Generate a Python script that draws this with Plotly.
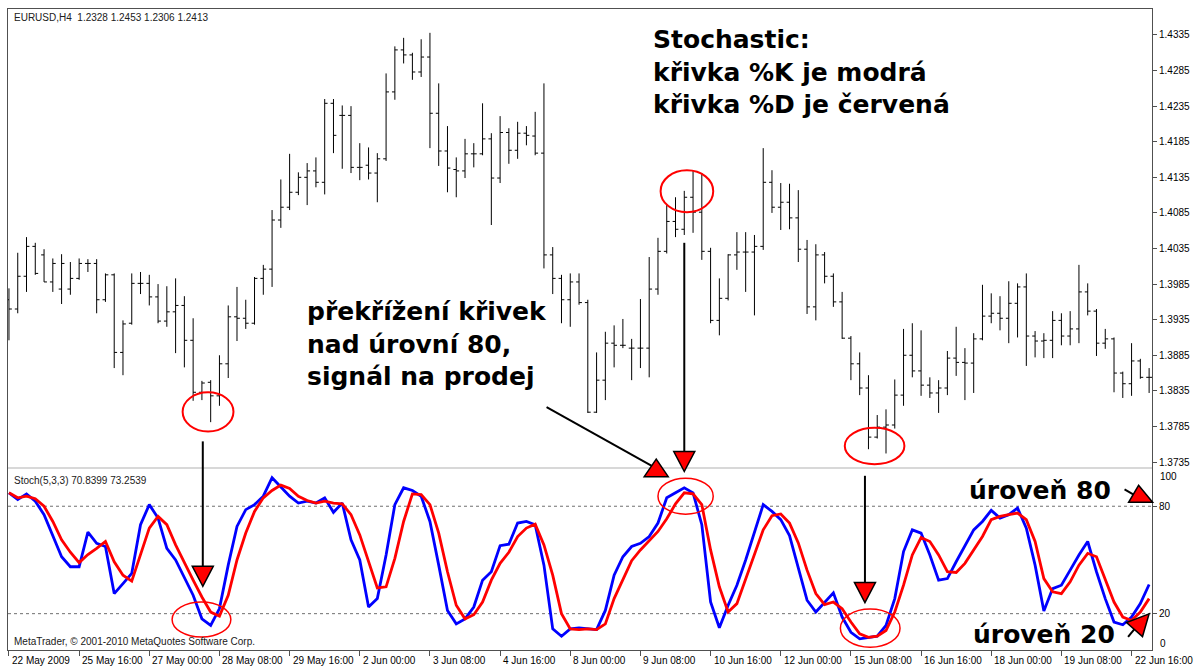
import plotly.graph_objects as go

# --- Data ---
bars = list(range(131))

opens = [1.3963, 1.3950, 1.3996, 1.4038, 1.4026, 1.3988, 1.3978, 1.3978, 1.3993, 1.4014,
         1.4014, 1.3963, 1.3998, 1.3889, 1.3930, 1.3986, 1.3986, 1.3967, 1.3933, 1.3946,
         1.3955, 1.3906, 1.3833, 1.3847, 1.3828, 1.3873, 1.3939, 1.3937, 1.3930, 1.3993,
         1.4006, 1.4075, 1.4093, 1.4114, 1.4135, 1.4144, 1.4128, 1.4239, 1.4222, 1.4222,
         1.4149, 1.4152, 1.4141, 1.4161, 1.4255, 1.4314, 1.4307, 1.4283, 1.4304, 1.4225,
         1.4172, 1.4146, 1.4144, 1.4168, 1.4168, 1.4189, 1.4134, 1.4198, 1.4173, 1.4197,
         1.4193, 1.4169, 1.4026, 1.3993, 1.3963, 1.3988, 1.3959, 1.3805, 1.3850, 1.3902,
         1.3899, 1.3895, 1.3895, 1.3895, 1.3978, 1.4031, 1.4073, 1.4062, 1.4107, 1.4086,
         1.4031, 1.3934, 1.3965, 1.4026, 1.4030, 1.4030, 1.4038, 1.4128, 1.4093, 1.4100,
         1.4078, 1.4034, 1.3953, 1.4026, 1.3996, 1.3960, 1.3909, 1.3873, 1.3839, 1.3770,
         1.3784, 1.3787, 1.3829, 1.3885, 1.3863, 1.3843, 1.3832, 1.3839, 1.3881, 1.3875,
         1.3874, 1.3908, 1.3940, 1.3944, 1.3937, 1.3958, 1.3981, 1.3912, 1.3905, 1.3906,
         1.3934, 1.3912, 1.3922, 1.3974, 1.3947, 1.3902, 1.3908, 1.3860, 1.3845, 1.3877,
         1.3854]
highs = [1.3979, 1.4029, 1.4051, 1.4043, 1.4034, 1.4021, 1.4027, 1.4016, 1.4021, 1.4020,
         1.4020, 1.4000, 1.4000, 1.3934, 1.4000, 1.4002, 1.3998, 1.3985, 1.3982, 1.3993,
         1.3968, 1.3937, 1.3849, 1.3850, 1.3885, 1.3955, 1.3981, 1.3963, 1.3995, 1.4012,
         1.4089, 1.4132, 1.4168, 1.4142, 1.4155, 1.4163, 1.4245, 1.4245, 1.4236, 1.4235,
         1.4183, 1.4177, 1.4169, 1.4281, 1.4319, 1.4331, 1.4310, 1.4329, 1.4338, 1.4267,
         1.4207, 1.4163, 1.4189, 1.4183, 1.4239, 1.4197, 1.4221, 1.4204, 1.4213, 1.4207,
         1.4227, 1.4267, 1.4037, 1.3998, 1.4000, 1.4000, 1.3963, 1.3889, 1.3918, 1.3927,
         1.3936, 1.3908, 1.3964, 1.4023, 1.4050, 1.4096, 1.4107, 1.4116, 1.4144, 1.4141,
         1.4036, 1.3993, 1.4027, 1.4058, 1.4058, 1.4054, 1.4176, 1.4145, 1.4127, 1.4126,
         1.4117, 1.4047, 1.4041, 1.4030, 1.4000, 1.3974, 1.3912, 1.3889, 1.3857, 1.3801,
         1.3809, 1.3851, 1.3922, 1.3930, 1.3920, 1.3854, 1.3850, 1.3891, 1.3925, 1.3895,
         1.3916, 1.3984, 1.3972, 1.3968, 1.3989, 1.3986, 1.4000, 1.3919, 1.3916, 1.3947,
         1.3944, 1.3947, 1.4012, 1.3986, 1.3950, 1.3922, 1.3910, 1.3862, 1.3902, 1.3880,
         1.3867]
lows = [1.3906, 1.3944, 1.3974, 1.3998, 1.3988, 1.3974, 1.3957, 1.3970, 1.3991, 1.4002,
        1.3944, 1.3960, 1.3867, 1.3857, 1.3928, 1.3971, 1.3955, 1.3930, 1.3925, 1.3888,
        1.3868, 1.3821, 1.3822, 1.3791, 1.3814, 1.3853, 1.3905, 1.3922, 1.3928, 1.3970,
        1.3981, 1.4064, 1.4089, 1.4110, 1.4096, 1.4121, 1.4111, 1.4169, 1.4147, 1.4141,
        1.4131, 1.4132, 1.4100, 1.4158, 1.4244, 1.4295, 1.4272, 1.4276, 1.4176, 1.4151,
        1.4114, 1.4107, 1.4134, 1.4149, 1.4166, 1.4068, 1.4127, 1.4154, 1.4161, 1.4180,
        1.4166, 1.4007, 1.3971, 1.3930, 1.3925, 1.3956, 1.3804, 1.3804, 1.3822, 1.3868,
        1.3895, 1.3850, 1.3867, 1.3854, 1.3970, 1.4028, 1.4051, 1.4054, 1.4057, 1.4019,
        1.3930, 1.3913, 1.3962, 1.4005, 1.3974, 1.3941, 1.4033, 1.4085, 1.4061, 1.4062,
        1.4016, 1.3943, 1.3934, 1.3986, 1.3953, 1.3908, 1.3850, 1.3829, 1.3753, 1.3768,
        1.3747, 1.3782, 1.3814, 1.3854, 1.3828, 1.3825, 1.3804, 1.3829, 1.3856, 1.3822,
        1.3832, 1.3906, 1.3930, 1.3920, 1.3902, 1.3910, 1.3870, 1.3882, 1.3881, 1.3881,
        1.3899, 1.3899, 1.3902, 1.3941, 1.3884, 1.3894, 1.3833, 1.3825, 1.3828, 1.3852,
        1.3832]
closes = [1.3950, 1.3996, 1.4038, 1.4000, 1.3988, 1.4014, 1.4014, 1.3993, 1.4014, 1.4014,
          1.3963, 1.3998, 1.3889, 1.3929, 1.3986, 1.3986, 1.3967, 1.3933, 1.3946, 1.3955,
          1.3906, 1.3833, 1.3846, 1.3828, 1.3873, 1.3939, 1.3937, 1.3930, 1.3993, 1.4006,
          1.4075, 1.4093, 1.4114, 1.4135, 1.4144, 1.4128, 1.4239, 1.4194, 1.4222, 1.4149,
          1.4149, 1.4141, 1.4161, 1.4255, 1.4314, 1.4307, 1.4283, 1.4304, 1.4225, 1.4172,
          1.4148, 1.4144, 1.4168, 1.4168, 1.4189, 1.4134, 1.4198, 1.4173, 1.4197, 1.4194,
          1.4169, 1.4026, 1.3993, 1.3963, 1.3988, 1.3959, 1.3805, 1.3850, 1.3902, 1.3899,
          1.3899, 1.3895, 1.3895, 1.3978, 1.4031, 1.4073, 1.4062, 1.4107, 1.4086, 1.4031,
          1.3934, 1.3965, 1.4026, 1.4030, 1.4030, 1.4038, 1.4128, 1.4093, 1.4100, 1.4078,
          1.4034, 1.3953, 1.4026, 1.3996, 1.3960, 1.3909, 1.3873, 1.3839, 1.3770, 1.3784,
          1.3787, 1.3829, 1.3885, 1.3863, 1.3843, 1.3832, 1.3839, 1.3881, 1.3875, 1.3874,
          1.3908, 1.3940, 1.3944, 1.3937, 1.3958, 1.3981, 1.3912, 1.3905, 1.3906, 1.3934,
          1.3912, 1.3922, 1.3974, 1.3947, 1.3902, 1.3908, 1.3860, 1.3845, 1.3877, 1.3854,
          1.3854]

stoch_k = [87.5, 83.7, 86.9, 82.8, 75.3, 64.0, 51.8, 46.2, 46.2, 65.5,
           59.3, 57.5, 31.2, 36.8, 42.5, 69.7, 80.9, 73.4, 56.5, 50.0,
           40.6, 30.3, 17.1, 13.4, 22.8, 47.1, 68.7, 78.1, 80.9, 85.6,
           95.9, 90.7, 85.6, 81.8, 82.8, 81.8, 84.7, 76.6, 81.8, 61.2,
           50.0, 23.7, 28.4, 52.8, 80.9, 90.3, 88.8, 85.6, 71.5, 47.1,
           21.8, 14.3, 17.1, 23.7, 38.7, 43.4, 58.0, 58.8, 70.6, 71.5,
           69.7, 47.1, 11.5, 7.4, 11.5, 12.1, 11.5, 11.1, 21.8, 41.5,
           51.8, 57.5, 59.3, 63.1, 70.6, 84.7, 87.5, 90.3, 87.5, 69.7,
           26.5, 12.1, 24.7, 35.9, 50.0, 65.9, 80.9, 77.1, 72.5, 63.6,
           45.0, 27.5, 20.9, 26.5, 31.6, 18.1, 9.6, 5.9, 6.8, 7.4,
           13.4, 28.4, 54.7, 66.8, 65.0, 52.8, 38.7, 39.6, 49.0, 57.5,
           66.8, 71.5, 77.7, 73.4, 75.3, 79.0, 67.8, 47.1, 21.5, 34.0,
           35.9, 44.3, 52.8, 60.3, 43.4, 28.4, 15.3, 13.8, 18.1, 25.6,
           36.3]
stoch_d = [87.5, 84.7, 85.6, 84.2, 80.0, 71.5, 61.2, 54.3, 48.5, 53.0,
           56.5, 60.3, 49.0, 41.5, 38.2, 52.8, 67.8, 74.3, 69.7, 58.4,
           48.1, 38.7, 29.3, 20.9, 18.6, 30.3, 50.0, 65.0, 77.1, 84.7,
           88.8, 91.8, 89.9, 85.6, 83.2, 81.8, 82.8, 81.8, 81.3, 75.3,
           64.0, 49.0, 34.4, 35.0, 50.9, 71.5, 86.9, 86.5, 80.9, 65.0,
           43.4, 24.7, 17.1, 19.4, 26.5, 38.7, 48.1, 54.3, 63.1, 67.8,
           70.0, 58.4, 41.5, 20.0, 11.5, 11.1, 11.5, 11.1, 14.3, 28.4,
           38.7, 49.6, 55.6, 60.7, 65.9, 73.0, 81.3, 87.5, 86.9, 80.9,
           55.6, 35.0, 20.9, 25.6, 39.7, 53.7, 66.8, 74.7, 75.7, 70.6,
           59.5, 44.3, 31.2, 25.0, 26.5, 22.8, 15.3, 8.7, 6.8, 7.4,
           10.6, 20.9, 35.9, 52.8, 62.5, 60.3, 52.8, 43.4, 43.0, 48.1,
           55.6, 63.1, 72.5, 74.3, 75.3, 76.2, 72.5, 60.3, 39.6, 32.2,
           31.2, 37.8, 47.1, 53.7, 51.8, 39.6, 26.5, 18.1, 16.2, 20.9,
           28.4]

price_ticks = [1.3735, 1.3785, 1.3835, 1.3885, 1.3935, 1.3985, 1.4035,
               1.4085, 1.4135, 1.4185, 1.4235, 1.4285, 1.4335]
date_ticks = [0, 8, 16, 24, 32, 40, 48, 56, 64, 72, 80, 88, 96, 104, 112, 120, 128]
date_labels = ["22 May 2009", "25 May 16:00", "27 May 00:00", "28 May 08:00",
               "29 May 16:00", "2 Jun 00:00", "3 Jun 08:00", "4 Jun 16:00",
               "8 Jun 00:00", "9 Jun 08:00", "10 Jun 16:00", "12 Jun 00:00",
               "15 Jun 08:00", "16 Jun 16:00", "18 Jun 00:00", "19 Jun 08:00",
               "22 Jun 16:00"]
levels = [20, 80]

# --- Geometry ---
W, H = 1194, 666
LEFT, RIGHT = 8, 1152
P_TOP, P_BOT = 9, 467
S_TOP, S_BOT = 469, 650
X_RANGE = [-0.11, 130.33]
P_RANGE = [1.3728, 1.43715]
S_RANGE = [-0.3, 100.8]
FRAME = "#505050"
AX_FONT = dict(family="Liberation Sans", size=10, color="#000000")
BIG_FONT = dict(family="DejaVu Sans", size=25, color="#000000")


def fx(px):
    return px / W


def fy(py):
    return 1 - py / H


def bar_px(i):
    return LEFT + (i - X_RANGE[0]) / (X_RANGE[1] - X_RANGE[0]) * (RIGHT - LEFT)


def val_py(v, panel):
    if panel == "p":
        lo, hi, top, bot = P_RANGE[0], P_RANGE[1], P_TOP, P_BOT
    else:
        lo, hi, top, bot = S_RANGE[0], S_RANGE[1], S_TOP, S_BOT
    return top + (hi - v) / (hi - lo) * (bot - top)


fig = go.Figure()

fig.add_trace(go.Ohlc(
    x=bars, open=opens, high=highs, low=lows, close=closes,
    increasing_line_color="#000000", decreasing_line_color="#000000",
    line_width=1, tickwidth=0.33, xaxis="x", yaxis="y",
    hoverinfo="skip", showlegend=False))

fig.add_trace(go.Scatter(x=bars, y=stoch_k, mode="lines", xaxis="x2", yaxis="y2",
                         line=dict(color="#0000ff", width=2.8), hoverinfo="skip",
                         showlegend=False))
fig.add_trace(go.Scatter(x=bars, y=stoch_d, mode="lines", xaxis="x2", yaxis="y2",
                         line=dict(color="#ff0000", width=2.8), hoverinfo="skip",
                         showlegend=False))

shapes = []
# level lines 20 / 80
for lv in levels:
    shapes.append(dict(type="line", xref="paper", yref="y2", x0=fx(LEFT), x1=fx(RIGHT),
                       y0=lv, y1=lv, line=dict(color="#707070", width=1, dash="3px,3px"),
                       layer="below"))

# panel separator
shapes.append(dict(type="rect", xref="paper", yref="paper", x0=fx(LEFT), x1=fx(RIGHT),
                   y0=fy(469), y1=fy(467), fillcolor="#d8d8d8", line=dict(width=0)))

# red ellipses (bar range, value range, panel)
ellipses = [
    (19.8, 25.6, 1.3778, 1.3833, "p", 2),
    (74.3, 80.3, 1.4086, 1.4145, "p", 2),
    (95.3, 102.1, 1.3732, 1.3783, "p", 2),
    (18.6, 25.3, 6.9, 26.5, "s", 1.5),
    (74.0, 80.3, 75.5, 95.7, "s", 1.5),
    (94.8, 101.6, 1.2, 22.6, "s", 1.5),
]
for x0, x1, y0, y1, panel, lw in ellipses:
    xr, yr = ("x", "y") if panel == "p" else ("x2", "y2")
    shapes.append(dict(type="circle", xref=xr, yref=yr, x0=x0, x1=x1, y0=y0, y1=y1,
                       line=dict(color="#ff0000", width=lw)))

# arrows: tail point, head anchor point, line end offset (px), triangle offsets (px)
DOWN = [(0, 0), (-10.5, -20), (10.5, -20)]
arrows = [
    ((22.1, 1.3764, "p"), (22.1, 35.3, "s"), (0, -20), DOWN),
    ((77.0, 1.4043, "p"), (77.0, 99.4, "s"), (0, -20), DOWN),
    ((97.6, 97.0, "s"), (97.6, 26.2, "s"), (0, -20), DOWN),
    ((61.3, 1.3812, "p"), (73.8, 1.3739, "p"), (-4, 7), [(0, 0), (-12, 17.5), (12, 17.5)]),
    ((127.2, 89.4, "s"), (130.4, 82.2, "s"), (-16, -6), [(0, 0), (-14, -17), (-24, 0)]),
    ((127.6, 7.0, "s"), (130.0, 19.9, "s"), (-12, 12), [(0, 0), (-22.6, 8.7), (-6.6, 22.7)]),
]
for tail, tip, end, tri in arrows:
    tx, ty = bar_px(tail[0]), val_py(tail[1], tail[2])
    ax, ay = bar_px(tip[0]), val_py(tip[1], tip[2])
    shapes.append(dict(type="line", xref="paper", yref="paper",
                       x0=fx(tx), y0=fy(ty), x1=fx(ax + end[0]), y1=fy(ay + end[1]),
                       line=dict(color="#000000", width=2)))
    path = "M " + " L ".join(f"{fx(ax + dx):.5f},{fy(ay + dy):.5f}" for dx, dy in tri) + " Z"
    shapes.append(dict(type="path", xref="paper", yref="paper", path=path,
                       fillcolor="#ff0000", line=dict(color="#000000", width=1.5)))

annotations = []
for t, lab in zip(date_ticks, date_labels):
    annotations.append(dict(x=t, y=fy(660), xref="x2", yref="paper", text=lab,
                            showarrow=False, xanchor="left", yanchor="middle",
                            xshift=1, font=AX_FONT))
for lab, py in [("100", 476), ("0", 643)]:
    annotations.append(dict(x=fx(1158), y=fy(py), xref="paper", yref="paper", text=lab,
                            showarrow=False, xanchor="left", yanchor="middle", font=AX_FONT))

small = [("EURUSD,H4\u00a0\u00a01.2328 1.2453 1.2306 1.2413", 17),
         ("Stoch(5,3,3) 70.8399 73.2539", 480),
         ("MetaTrader, \u00a9 2001-2010 MetaQuotes Software Corp.", 641)]
for txt, py in small:
    annotations.append(dict(x=fx(12), y=fy(py), xref="paper", yref="paper", text=txt,
                            showarrow=False, xanchor="left", yanchor="middle",
                            font=dict(family="Liberation Sans", size=10, color="#202020")))

big = [("<b>Stochastic:<br>křivka %K je modrá<br>křivka %D je červená</b>", 651, 23),
       ("<b>překřížení křivek<br>nad úrovní 80,<br>signál na prodej</b>", 305, 295),
       ("<b>úroveň 80</b>", 967, 474),
       ("<b>úroveň 20</b>", 971, 618)]
for txt, px, py in big:
    annotations.append(dict(x=fx(px), y=fy(py), xref="paper", yref="paper", text=txt,
                            showarrow=False, xanchor="left", yanchor="top", align="left",
                            font=BIG_FONT))

fig.update_layout(
    width=W, height=H, margin=dict(l=0, r=0, t=0, b=0),
    paper_bgcolor="#ffffff", plot_bgcolor="#ffffff",
    xaxis=dict(domain=[fx(LEFT), fx(RIGHT)], range=X_RANGE, anchor="y",
               showticklabels=False, ticks="", showgrid=False, zeroline=False,
               showline=True, mirror=True, linecolor=FRAME, linewidth=1,
               rangeslider=dict(visible=False)),
    yaxis=dict(domain=[fy(P_BOT), fy(P_TOP)], range=P_RANGE, anchor="x", side="right",
               tickvals=price_ticks, ticktext=[f"{v:.4f}" for v in price_ticks],
               ticks="outside", ticklen=4, tickcolor=FRAME, tickfont=AX_FONT,
               showgrid=False, zeroline=False, showline=True, mirror=True,
               linecolor=FRAME, linewidth=1),
    xaxis2=dict(domain=[fx(LEFT), fx(RIGHT)], range=X_RANGE, anchor="y2",
                tickvals=date_ticks, ticktext=[""] * len(date_ticks),
                ticks="outside", ticklen=5, tickcolor=FRAME, showgrid=False,
                zeroline=False, showline=True, mirror=True, linecolor=FRAME, linewidth=1),
    yaxis2=dict(domain=[fy(S_BOT), fy(S_TOP)], range=S_RANGE, anchor="x2", side="right",
                tickvals=levels, ticktext=[str(v) for v in levels],
                ticks="outside", ticklen=4, tickcolor=FRAME, tickfont=AX_FONT,
                showgrid=False, zeroline=False, showline=True, mirror=True,
                linecolor=FRAME, linewidth=1),
    shapes=shapes, annotations=annotations, showlegend=False,
)

# page body has a default 8px margin; drop it so the figure sits at the window corner
fig.write_html("out.html", config={"displayModeBar": False},
               post_script="document.body.style.margin='0px';")
